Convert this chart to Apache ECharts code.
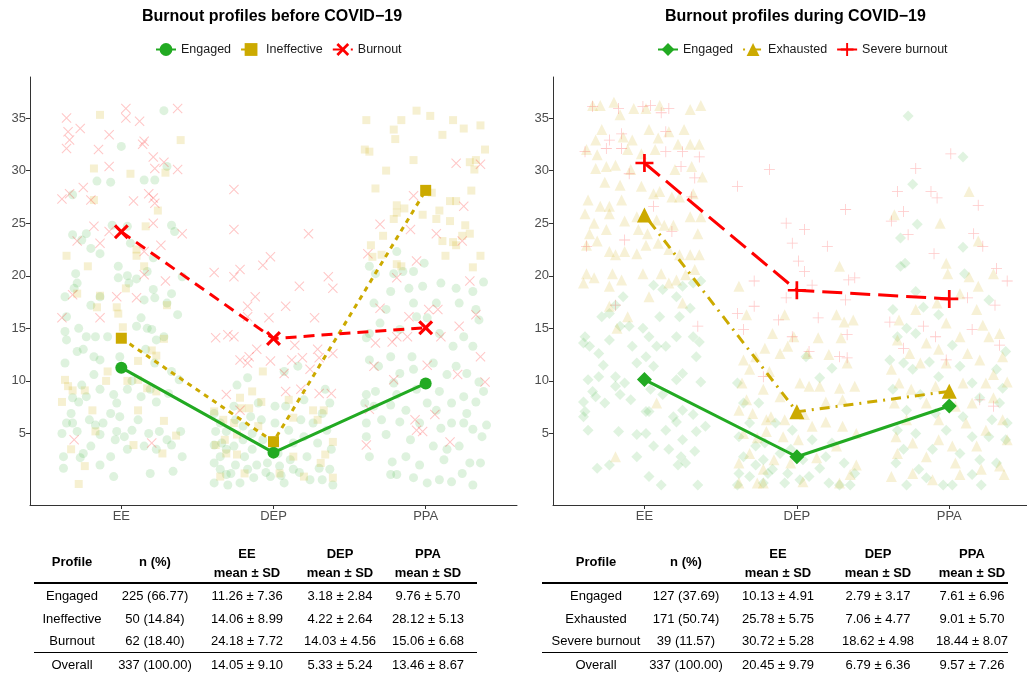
<!DOCTYPE html>
<html>
<head>
<meta charset="utf-8">
<script src="https://cdn.jsdelivr.net/npm/echarts@6/dist/echarts.min.js"></script>
<style>
  html, body { margin: 0; padding: 0; background: #fff; }
  #main { width: 1027px; height: 673px; }
</style>
</head>
<body>
<div id="main"></div>
<script>
// axes
var categories = ['EE', 'DEP', 'PPA'];
var xTicks = [1, 2, 3];
var yTicks = [5, 10, 15, 20, 25, 30, 35];

// profiles and profile means (as plotted)
var beforeProfiles = ['Engaged', 'Ineffective', 'Burnout'];
var duringProfiles = ['Engaged', 'Exhausted', 'Severe burnout'];
var beforeMeans = [[11.26, 3.18, 9.76], [14.06, 4.22, 28.12], [24.18, 14.03, 15.06]];
var duringMeans = [[10.13, 2.79, 7.61], [25.78, 7.06, 9.01], [30.72, 18.62, 17.8]];

// individual scores, [jitter offset, score]
var beforeEngagedEE = [[0.28,35.7],[0.0,32.3],[-0.16,29.0],[-0.07,28.9],[0.15,29.1],[0.22,29.1],[0.30,30.4],[-0.32,27.7],[-0.06,24.8],[0.04,24.7],[0.33,24.8],[0.35,24.2],[-0.32,23.9],[-0.23,24.0],[-0.26,23.4],[-0.20,22.6],[-0.14,22.1],[0.06,23.1],[-0.02,20.9],[0.17,20.4],[0.21,21.7],[-0.30,20.2],[-0.29,19.3],[-0.31,18.8],[-0.37,18.0],[-0.20,17.2],[-0.14,18.0],[-0.02,19.8],[0.04,20.0],[0.05,19.3],[0.10,19.7],[0.15,17.7],[0.21,18.7],[0.22,17.9],[0.33,18.3],[0.30,17.4],[0.37,16.3],[0.40,19.9],[-0.36,16.1],[-0.37,14.7],[-0.28,15.0],[-0.23,14.2],[-0.17,14.2],[-0.09,14.2],[-0.36,13.9],[-0.29,12.8],[-0.25,13.0],[-0.18,12.3],[-0.14,12.0],[-0.01,12.3],[0.10,15.2],[0.13,16.0],[0.17,15.0],[0.20,14.9],[0.23,13.9],[0.28,14.2],[0.16,13.0],[0.22,11.7],[-0.37,11.7],[-0.18,10.6],[-0.14,9.2],[-0.05,8.7],[0.04,9.2],[0.07,10.0],[0.13,8.5],[0.19,9.2],[0.23,8.0],[0.31,8.8],[0.38,10.1],[0.33,10.9],[-0.32,8.4],[-0.28,8.0],[-0.23,8.5],[-0.26,9.6],[-0.33,6.9],[-0.32,6.0],[-0.36,6.0],[-0.39,5.0],[-0.29,5.2],[-0.21,6.3],[-0.17,5.8],[-0.12,6.0],[-0.07,6.9],[-0.03,7.9],[-0.01,6.6],[-0.03,5.2],[0.02,4.7],[0.07,5.3],[0.04,3.5],[-0.04,4.4],[-0.14,4.9],[-0.20,3.8],[-0.25,3.1],[-0.38,2.8],[-0.38,1.7],[-0.27,2.7],[-0.14,2.0],[-0.07,2.8],[-0.05,0.9],[0.18,5.0],[0.25,5.2],[0.30,4.4],[0.39,5.2],[0.23,3.5],[0.19,1.2],[0.33,3.9],[0.40,2.8],[0.34,1.4],[0.15,3.8],[0.11,6.3]];
var beforeEngagedDEP = [[-0.39,6.9],[-0.38,5.2],[-0.39,3.9],[-0.39,2.2],[-0.39,0.3],[-0.35,6.0],[-0.34,4.1],[-0.35,2.8],[-0.35,1.6],[-0.31,5.2],[-0.31,3.5],[-0.31,1.1],[-0.30,0.1],[-0.26,7.6],[-0.25,6.3],[-0.26,3.8],[-0.25,2.0],[-0.22,0.3],[-0.20,5.7],[-0.20,4.4],[-0.19,2.8],[-0.17,1.6],[-0.15,6.6],[-0.14,5.0],[-0.14,3.5],[-0.13,0.8],[-0.11,2.0],[-0.10,7.9],[-0.24,9.6],[-0.17,10.3],[-0.08,6.3],[-0.07,4.4],[-0.04,2.2],[-0.02,0.9],[0.01,6.0],[0.03,3.1],[0.04,1.9],[0.07,0.3],[0.08,7.6],[0.10,5.3],[0.13,4.1],[0.13,1.6],[0.16,11.4],[0.18,6.3],[0.20,4.7],[0.22,2.8],[0.24,0.6],[0.26,6.0],[0.29,4.1],[0.30,1.7],[0.32,6.9],[0.34,9.2],[0.35,5.3],[0.37,7.9],[0.38,3.5],[0.39,0.1],[0.07,10.9],[0.20,8.2],[0.01,7.6],[0.11,2.5],[0.32,0.6],[0.37,1.6],[-0.05,1.3],[0.05,1.0],[-0.28,1.2],[0.17,1.3]];
var beforeEngagedPPA = [[-0.19,22.3],[-0.01,21.2],[-0.37,20.9],[-0.33,20.2],[-0.21,20.2],[-0.15,20.4],[-0.08,20.4],[-0.02,19.0],[0.10,19.3],[0.20,18.8],[0.31,18.5],[0.38,19.4],[-0.23,18.5],[-0.11,18.8],[-0.34,17.4],[-0.26,16.8],[-0.08,17.4],[-0.06,16.1],[0.01,16.0],[0.07,17.4],[0.22,17.4],[0.33,16.8],[0.35,15.8],[0.25,14.2],[0.18,13.3],[0.31,13.3],[0.09,14.5],[-0.17,14.9],[-0.37,14.5],[-0.30,15.5],[-0.39,14.1],[-0.23,12.3],[-0.09,12.3],[-0.37,12.0],[-0.08,11.1],[-0.17,10.7],[-0.31,11.4],[0.05,11.7],[0.14,10.6],[0.20,11.4],[0.27,10.7],[0.35,9.9],[-0.39,8.7],[-0.33,9.0],[-0.21,9.8],[-0.19,8.7],[-0.23,7.7],[-0.34,7.6],[-0.40,7.9],[-0.06,9.2],[0.01,7.9],[0.09,9.0],[0.17,7.9],[0.25,8.5],[0.33,8.0],[0.38,9.0],[-0.13,7.2],[0.07,7.2],[0.27,6.9],[-0.39,6.0],[-0.29,6.3],[-0.17,6.1],[-0.04,6.0],[0.10,5.5],[0.17,6.0],[0.25,6.0],[0.31,5.4],[0.37,4.7],[0.40,5.8],[-0.39,4.7],[-0.26,4.9],[-0.10,4.4],[0.05,3.8],[0.14,3.5],[0.22,3.8],[-0.37,2.8],[-0.22,2.3],[-0.13,2.8],[-0.04,2.0],[0.12,2.5],[0.29,2.2],[0.36,2.2],[-0.23,1.1],[-0.08,0.8],[0.01,0.3],[0.09,0.6],[0.17,0.4],[0.24,1.2],[0.31,0.1],[-0.19,1.1]];
var beforeIneffectiveEE = [[-0.14,35.3],[0.39,32.9],[-0.18,30.2],[0.06,29.7],[0.29,29.8],[-0.18,27.2],[0.24,26.2],[0.16,24.7],[-0.36,21.9],[-0.22,20.9],[0.10,22.5],[0.10,21.9],[0.15,20.9],[0.03,18.8],[-0.29,18.3],[-0.14,18.1],[-0.16,17.0],[-0.03,17.0],[-0.02,16.4],[0.01,15.1],[0.30,17.2],[0.28,14.0],[0.20,12.9],[0.23,12.4],[0.11,11.9],[-0.09,10.9],[-0.10,10.0],[0.04,10.0],[0.11,10.1],[0.17,9.3],[-0.37,10.1],[-0.35,9.5],[-0.32,9.1],[-0.24,9.1],[-0.39,8.0],[-0.19,7.2],[0.11,7.2],[-0.17,5.2],[0.28,6.2],[0.36,4.8],[0.08,3.9],[-0.33,3.5],[0.27,3.1],[-0.24,1.9],[-0.28,0.2],[0.23,9.0]];
var beforeIneffectiveDEP = [[-0.07,10.9],[-0.08,8.0],[0.10,8.2],[0.26,7.2],[0.33,7.2],[0.13,6.5],[0.29,6.3],[0.39,4.2],[0.13,2.8],[0.34,3.0],[0.31,2.2],[0.04,1.2],[0.20,0.9],[0.39,0.8],[-0.14,9.0],[-0.22,8.4],[-0.21,7.4],[-0.16,7.4],[-0.39,7.1],[-0.33,6.3],[-0.26,6.0],[-0.24,4.9],[-0.32,4.4],[-0.38,3.9],[-0.31,3.1],[-0.24,3.0],[-0.35,0.9],[-0.19,1.2],[-0.10,5.7]];
var beforeIneffectivePPA = [[-0.39,34.8],[-0.16,34.8],[-0.06,35.7],[0.03,35.2],[0.18,34.8],[0.25,34.0],[0.36,34.3],[-0.21,33.9],[-0.20,33.0],[0.11,33.4],[-0.40,32.0],[-0.37,31.8],[0.39,32.0],[-0.08,31.0],[0.29,30.8],[0.33,31.0],[0.32,30.1],[-0.26,30.0],[-0.33,28.3],[0.30,28.1],[0.04,27.9],[-0.19,26.7],[-0.14,26.4],[-0.19,26.0],[-0.21,25.4],[-0.02,25.8],[0.09,26.2],[0.07,25.4],[0.16,27.1],[0.20,27.1],[0.16,25.2],[0.26,24.8],[0.29,24.0],[0.24,23.8],[-0.28,23.8],[-0.36,22.9],[-0.29,22.0],[-0.35,21.8],[0.11,23.3],[0.18,23.2],[0.20,22.9],[0.13,21.9],[0.36,21.9],[-0.19,21.1],[-0.16,20.9],[0.31,20.8]];
var beforeBurnoutEE = [[-0.36,35.0],[-0.35,33.7],[-0.34,32.9],[-0.36,32.1],[-0.27,34.0],[-0.39,27.3],[-0.34,27.8],[-0.25,28.4],[-0.20,27.2],[-0.15,32.0],[-0.08,33.4],[-0.08,30.4],[0.03,35.9],[0.03,35.0],[0.12,34.7],[0.14,32.5],[0.15,32.8],[0.21,31.3],[0.22,30.2],[0.18,27.8],[0.21,27.4],[0.22,26.9],[0.28,30.8],[0.37,35.9],[0.37,30.1],[0.40,24.0],[0.26,22.9],[0.29,19.5],[0.21,25.0],[0.15,22.3],[0.10,17.9],[-0.03,18.0],[-0.14,16.0],[-0.18,24.7],[-0.14,23.1],[-0.29,23.3],[-0.39,16.0],[-0.32,18.2],[-0.08,24.2],[0.08,27.1],[0.15,20.1],[0.20,4.1],[-0.31,4.4]];
var beforeBurnoutDEP = [[0.23,24.0],[-0.02,21.8],[-0.07,21.0],[0.17,19.0],[0.36,19.9],[0.39,18.8],[0.08,17.1],[0.27,16.0],[-0.03,16.0],[0.14,13.4],[0.29,13.0],[-0.02,11.9],[0.12,12.0],[0.19,12.2],[0.30,12.2],[0.39,12.6],[0.07,10.7],[0.24,11.1],[0.08,9.0],[0.18,9.2],[0.30,8.8],[0.38,8.8],[-0.26,28.2],[-0.26,24.4],[-0.39,20.3],[-0.26,19.9],[-0.22,20.6],[-0.38,14.1],[-0.30,14.4],[-0.26,14.2],[-0.17,17.1],[-0.12,18.0],[-0.22,12.0],[-0.17,11.7],[-0.16,12.3],[-0.11,13.0],[-0.31,8.7],[-0.22,7.2],[-0.17,16.1]];
var beforeBurnoutPPA = [[0.20,30.7],[0.36,30.6],[-0.08,27.6],[-0.30,24.9],[-0.10,24.4],[0.07,24.0],[0.24,23.3],[0.25,26.6],[-0.38,22.1],[-0.06,21.4],[-0.19,19.8],[0.29,19.5],[-0.30,16.9],[-0.11,16.1],[0.02,16.8],[0.08,16.8],[0.22,15.2],[0.33,16.3],[-0.33,13.6],[-0.22,13.7],[-0.19,14.2],[-0.12,14.2],[0.10,14.2],[0.36,12.3],[-0.34,11.4],[0.01,11.5],[0.21,10.6],[0.39,9.9],[-0.21,10.1],[-0.37,7.3],[-0.07,6.3],[0.06,6.8],[-0.06,5.3],[-0.02,5.2],[-0.39,3.9],[0.16,4.2]];

var duringEngagedEE = [[-0.14,18.0],[-0.19,17.2],[-0.28,16.1],[-0.23,16.4],[-0.16,15.2],[-0.10,15.2],[-0.01,15.0],[0.06,19.1],[0.12,18.7],[0.21,18.0],[0.25,19.0],[0.32,19.3],[0.37,19.5],[0.30,16.9],[0.23,16.1],[0.10,16.1],[-0.39,14.2],[-0.40,13.6],[-0.36,13.3],[-0.30,12.6],[-0.23,13.9],[-0.08,13.3],[0.03,14.2],[0.08,13.3],[0.14,13.3],[0.21,14.2],[0.32,14.2],[0.36,13.7],[0.01,12.3],[-0.05,11.7],[0.06,11.4],[0.34,12.3],[-0.27,11.5],[-0.37,10.1],[-0.30,10.4],[-0.19,10.4],[-0.13,9.8],[-0.19,9.5],[0.21,10.1],[0.25,10.7],[0.37,9.9],[-0.34,9.0],[-0.32,8.5],[-0.16,8.7],[-0.09,8.2],[0.04,9.2],[0.12,8.7],[-0.40,8.0],[-0.39,7.1],[-0.40,6.6],[-0.26,7.9],[0.01,7.1],[0.03,7.1],[0.19,6.6],[0.25,7.2],[0.32,6.8],[0.21,6.1],[0.14,5.3],[-0.37,5.3],[-0.17,5.2],[-0.05,4.9],[0.01,5.0],[0.34,5.2],[0.40,5.7],[0.06,3.8],[0.16,3.5],[0.25,4.4],[0.33,3.3],[-0.31,1.7],[-0.23,2.0],[-0.05,2.8],[0.22,2.0],[0.27,2.2],[0.03,0.9],[0.11,0.1],[0.35,0.1],[0.24,2.8]];
var duringEngagedDEP = [[-0.39,9.8],[-0.35,7.9],[-0.31,6.0],[-0.38,4.7],[-0.27,3.8],[-0.35,2.8],[-0.22,2.5],[-0.38,1.2],[-0.31,0.9],[-0.39,0.1],[-0.22,0.3],[-0.19,1.2],[-0.27,2.0],[0.06,12.3],[0.23,11.2],[0.15,10.3],[-0.25,7.9],[-0.14,6.0],[-0.03,5.3],[0.10,4.4],[0.23,4.1],[0.31,2.2],[0.38,1.2],[-0.21,4.1],[-0.11,3.1],[-0.16,1.6],[-0.06,1.2],[0.02,0.6],[0.08,0.9],[0.15,1.7],[0.21,0.3],[0.28,0.1],[0.35,0.1],[0.04,2.5],[-0.08,0.3],[0.19,2.8],[-0.04,3.5]];
var duringEngagedPPA = [[-0.27,35.2],[0.09,31.3],[-0.24,28.7],[-0.21,24.9],[-0.32,23.6],[0.09,22.7],[-0.29,21.2],[-0.32,20.9],[0.10,20.2],[-0.22,18.5],[-0.17,17.0],[-0.07,16.3],[-0.37,16.8],[0.26,17.7],[-0.28,15.0],[-0.22,14.5],[-0.34,14.2],[0.02,13.4],[0.37,12.8],[-0.39,12.0],[-0.30,11.7],[-0.13,11.8],[0.07,11.4],[0.31,11.1],[-0.24,11.1],[-0.07,10.4],[0.15,9.8],[0.35,9.3],[-0.37,9.2],[-0.19,8.7],[0.20,8.4],[0.33,7.9],[-0.28,7.2],[-0.09,6.9],[0.09,6.6],[0.28,6.3],[0.38,6.0],[-0.34,5.3],[-0.22,5.0],[-0.02,5.3],[0.15,4.7],[0.26,4.7],[0.37,4.4],[-0.30,3.5],[-0.11,3.5],[0.07,3.1],[0.20,2.5],[-0.35,2.2],[-0.20,1.6],[-0.04,0.1],[0.02,0.1],[0.15,1.1],[0.21,0.1],[-0.28,0.1],[-0.15,0.8],[0.31,2.2]];
var duringExhaustedEE = [[-0.34,36.2],[-0.29,36.2],[-0.20,36.5],[-0.07,35.9],[0.01,35.9],[0.10,36.2],[0.30,35.8],[0.37,36.2],[-0.16,35.3],[-0.28,33.9],[-0.32,32.9],[-0.14,33.2],[-0.08,32.9],[0.03,33.9],[0.09,33.1],[0.16,33.7],[0.26,33.9],[0.22,32.5],[0.30,32.5],[0.36,32.5],[-0.38,32.0],[-0.31,31.5],[-0.11,32.0],[-0.02,31.6],[0.07,32.0],[-0.25,30.4],[-0.19,30.5],[-0.32,30.2],[-0.09,30.1],[0.20,30.1],[0.31,30.4],[0.38,29.4],[-0.26,28.9],[-0.16,28.6],[-0.02,28.5],[0.06,27.8],[0.10,28.0],[0.18,27.5],[0.23,27.5],[0.32,27.8],[-0.37,27.2],[-0.29,26.6],[-0.23,26.6],[-0.15,27.2],[-0.39,25.9],[-0.23,25.9],[-0.13,25.2],[-0.05,25.6],[0.08,25.3],[0.13,24.8],[0.19,24.8],[0.30,25.6],[0.37,25.6],[-0.33,25.0],[-0.36,24.0],[-0.25,24.4],[-0.04,24.4],[0.02,24.0],[0.35,24.0],[-0.38,22.9],[-0.31,23.3],[-0.23,22.3],[-0.19,22.0],[-0.13,22.3],[-0.05,22.1],[0.01,22.9],[0.09,23.1],[0.16,22.5],[0.23,22.0],[0.30,22.0],[0.36,22.0],[-0.38,20.2],[-0.33,19.8],[-0.21,20.2],[-0.15,19.6],[-0.01,20.2],[0.11,20.2],[0.16,19.3],[0.21,19.6],[0.27,20.1],[0.33,20.6],[-0.40,19.3],[-0.23,19.0],[0.03,18.0],[0.25,17.4],[-0.23,17.1],[-0.11,16.1],[-0.18,15.0],[-0.19,2.8],[0.08,7.9]];
var duringExhaustedDEP = [[0.28,20.9],[-0.08,16.3],[-0.16,14.5],[-0.02,14.2],[0.14,14.1],[0.26,16.3],[0.31,15.6],[0.37,15.8],[0.29,14.1],[-0.21,13.1],[-0.11,12.6],[-0.06,13.3],[0.07,12.6],[0.21,12.5],[0.33,11.7],[-0.18,10.9],[0.02,9.8],[0.08,9.5],[0.15,9.5],[0.28,9.3],[0.38,9.5],[-0.11,8.5],[0.19,8.0],[0.30,8.2],[-0.17,6.6],[-0.08,6.3],[0.05,6.8],[0.10,5.7],[0.19,6.1],[0.30,5.7],[0.39,5.0],[-0.20,5.2],[-0.09,4.7],[0.01,4.4],[0.26,3.8],[-0.15,2.5],[-0.04,2.2],[0.13,2.7],[0.39,2.0],[-0.22,0.3],[0.04,0.4],[0.28,0.3],[0.35,1.1],[-0.38,19.0],[-0.33,16.3],[-0.35,12.0],[-0.27,12.3],[-0.31,11.1],[-0.36,9.8],[-0.22,9.2],[-0.33,8.2],[-0.38,7.2],[-0.29,6.9],[-0.20,6.3],[-0.35,5.0],[-0.26,4.6],[-0.31,3.1],[-0.38,2.2],[-0.22,1.6],[-0.26,0.3],[-0.38,0.3]];
var duringExhaustedPPA = [[0.13,28.0],[-0.06,25.0],[-0.36,25.8],[-0.02,21.2],[0.19,23.3],[-0.01,20.2],[0.13,19.9],[0.29,20.2],[0.19,19.0],[0.07,18.3],[-0.08,17.4],[0.18,16.8],[-0.33,15.8],[-0.22,16.8],[-0.02,15.5],[0.22,15.3],[0.33,14.5],[-0.34,13.9],[-0.15,13.6],[0.07,14.2],[0.26,14.2],[-0.26,12.6],[-0.07,13.0],[0.12,12.6],[0.20,12.0],[0.35,12.3],[-0.38,11.1],[-0.19,11.7],[-0.02,11.7],[0.29,10.6],[-0.33,9.8],[-0.25,9.2],[-0.09,9.5],[0.09,9.8],[0.24,9.8],[0.38,9.9],[-0.36,7.9],[-0.15,7.9],[0.04,7.6],[0.15,7.9],[0.29,8.4],[-0.28,6.3],[-0.07,6.3],[0.11,6.0],[0.24,5.3],[0.35,6.3],[-0.35,4.7],[-0.24,4.1],[-0.07,4.4],[0.02,3.8],[0.18,3.8],[0.38,4.4],[-0.34,3.1],[-0.15,2.8],[0.04,2.2],[0.21,1.6],[0.33,1.9],[-0.38,0.9],[-0.24,1.2],[0.07,1.1],[0.36,1.1],[-0.11,0.6]];
var duringSevereEE = [[-0.34,36.1],[-0.17,35.9],[-0.01,36.1],[0.04,36.2],[0.11,35.5],[0.16,35.9],[0.14,33.7],[-0.23,32.9],[-0.15,33.5],[-0.25,32.1],[-0.15,32.1],[0.25,31.8],[-0.39,31.8],[0.36,31.3],[0.14,31.8],[0.24,30.4],[-0.10,29.7],[0.33,29.3],[0.31,27.5],[0.06,26.6],[0.18,24.2],[-0.13,23.4],[-0.38,22.8],[-0.19,17.2],[0.35,15.2]];
var duringSevereDEP = [[-0.18,30.1],[-0.07,25.0],[0.05,24.4],[-0.03,23.1],[0.20,22.8],[0.32,26.3],[0.01,21.4],[0.05,20.4],[0.10,19.1],[0.34,19.6],[0.38,19.8],[0.32,17.7],[-0.07,17.9],[0.14,16.0],[-0.12,15.8],[-0.03,14.2],[0.33,14.4],[0.08,12.8],[0.28,12.3],[0.33,12.2],[-0.22,10.4],[-0.39,28.5],[-0.28,19.5],[-0.28,17.1],[-0.39,16.4],[-0.35,14.9]];
var duringSeverePPA = [[0.01,31.6],[-0.22,30.2],[-0.12,28.0],[-0.08,27.4],[-0.34,28.0],[-0.30,26.1],[-0.38,25.2],[0.19,26.7],[-0.27,23.9],[-0.10,22.1],[0.16,24.0],[0.22,22.8],[0.31,20.7],[0.38,19.5],[0.12,17.9],[0.30,17.2],[-0.39,15.6],[-0.17,15.2],[0.15,14.9],[0.33,13.4],[-0.30,13.1],[-0.09,14.2],[-0.02,12.0],[0.20,8.2],[0.29,7.6]];

// summary tables
var tableHeader = ['Profile', 'n (%)', 'EE', 'DEP', 'PPA'];
var beforeRows = [
    ['Engaged', '225 (66.77)', '11.26 ± 7.36', '3.18 ± 2.84', '9.76 ± 5.70'],
    ['Ineffective', '50 (14.84)', '14.06 ± 8.99', '4.22 ± 2.64', '28.12 ± 5.13'],
    ['Burnout', '62 (18.40)', '24.18 ± 7.72', '14.03 ± 4.56', '15.06 ± 6.68']
];
var beforeOverall = ['Overall', '337 (100.00)', '14.05 ± 9.10', '5.33 ± 5.24', '13.46 ± 8.67'];
var duringRows = [
    ['Engaged', '127 (37.69)', '10.13 ± 4.91', '2.79 ± 3.17', '7.61 ± 6.96'],
    ['Exhausted', '171 (50.74)', '25.78 ± 5.75', '7.06 ± 4.77', '9.01 ± 5.70'],
    ['Severe burnout', '39 (11.57)', '30.72 ± 5.28', '18.62 ± 4.98', '18.44 ± 8.07']
];
var duringOverall = ['Overall', '337 (100.00)', '20.45 ± 9.79', '6.79 ± 6.36', '9.57 ± 7.26'];

var beforeScatter = [
    [beforeEngagedEE, beforeEngagedDEP, beforeEngagedPPA],
    [beforeIneffectiveEE, beforeIneffectiveDEP, beforeIneffectivePPA],
    [beforeBurnoutEE, beforeBurnoutDEP, beforeBurnoutPPA]
];
var duringScatter = [
    [duringEngagedEE, duringEngagedDEP, duringEngagedPPA],
    [duringExhaustedEE, duringExhaustedDEP, duringExhaustedPPA],
    [duringSevereEE, duringSevereDEP, duringSeverePPA]
];

var colors = ['#22AA22', '#CCAA00', '#FF0000'];
var crossBold = 'path://M0,3 L3,0 L10,7 L17,0 L20,3 L13,10 L20,17 L17,20 L10,13 L3,20 L0,17 L7,10 Z';
var crossThin = 'path://M0,1.5 L1.5,0 L10,8.5 L18.5,0 L20,1.5 L11.5,10 L20,18.5 L18.5,20 L10,11.5 L1.5,20 L0,18.5 L8.5,10 Z';
var plusBold = 'path://M8.5,0 H11.5 V8.5 H20 V11.5 H11.5 V20 H8.5 V11.5 H0 V8.5 H8.5 Z';
var plusThin = 'path://M9.3,0 H10.7 V9.3 H20 V10.7 H10.7 V20 H9.3 V10.7 H0 V9.3 H9.3 Z';

var panels = [{
    key: 'before',
    title: 'Burnout profiles before COVID\u221219',
    titleLeft: 142,
    legendLeft: 155,
    gridLeft: 30,
    gridWidth: 487,
    xMax: 3.6,
    profiles: beforeProfiles,
    means: beforeMeans,
    scatter: beforeScatter,
    rows: beforeRows,
    overall: beforeOverall,
    meanSymbol: ['circle', 'rect', crossBold],
    meanSize: [12, 11, 15],
    dotSymbol: ['circle', 'rect', crossThin],
    dotSize: [9, 8, 10],
    dotOpacity: [0.15, 0.18, 0.22],
    lineType: ['solid', [5, 5], [11, 7]],
    tableX: [34, 477],
    colX: [72, 155, 247, 340, 428]
}, {
    key: 'during',
    title: 'Burnout profiles during COVID\u221219',
    titleLeft: 665,
    legendLeft: 657,
    gridLeft: 553,
    gridWidth: 474,
    xMax: 3.51,   // panel is cut off at the right edge of the picture
    profiles: duringProfiles,
    means: duringMeans,
    scatter: duringScatter,
    rows: duringRows,
    overall: duringOverall,
    meanSymbol: ['diamond', 'triangle', plusBold],
    meanSize: [15, 15, 18],
    dotSymbol: ['diamond', 'triangle', plusThin],
    dotSize: [11, 11, 11],
    dotOpacity: [0.14, 0.16, 0.22],
    lineType: ['solid', [2, 6, 10, 6], [20, 8]],
    tableX: [542, 1008],
    colX: [596, 686, 778, 878, 972]
}];

var option = {
    animation: false,
    backgroundColor: '#fff',
    textStyle: { fontFamily: 'Liberation Sans, Arial, sans-serif' },
    title: [],
    legend: [],
    grid: [],
    xAxis: [],
    yAxis: [],
    series: [],
    graphic: []
};

panels.forEach(function (p, gi) {
    option.title.push({
        text: p.title,
        left: p.titleLeft,
        top: 9,
        padding: 0,
        textStyle: { fontSize: 16, fontWeight: 'bold', color: '#000' }
    });
    option.grid.push({ left: p.gridLeft, top: 77, width: p.gridWidth, height: 428 });
    option.xAxis.push({
        gridIndex: gi,
        type: 'value',
        min: 0.4,
        max: p.xMax,
        splitLine: { show: false },
        axisLine: { onZero: false, lineStyle: { color: '#333', width: 1 } },
        axisTick: { customValues: xTicks, length: 4, lineStyle: { color: '#333' } },
        axisLabel: {
            customValues: xTicks,
            margin: 5,
            fontSize: 13,
            color: '#4d4d4d',
            formatter: function (v) { return categories[Math.round(v) - 1]; }
        }
    });
    option.yAxis.push({
        gridIndex: gi,
        type: 'value',
        min: -1.8,
        max: 38.9,
        splitLine: { show: false },
        axisLine: { onZero: false, lineStyle: { color: '#333', width: 1 } },
        axisTick: { customValues: yTicks, length: 4, lineStyle: { color: '#333' } },
        axisLabel: { customValues: yTicks, margin: 4, fontSize: 13, color: '#4d4d4d' }
    });

    var legendNames = [];
    p.profiles.forEach(function (name, k) {
        // faint individual scores
        p.scatter[k].forEach(function (pts, c) {
            option.series.push({
                type: 'scatter',
                name: p.key + '-' + name + '-' + categories[c],
                xAxisIndex: gi,
                yAxisIndex: gi,
                symbol: p.dotSymbol[k],
                symbolSize: p.dotSize[k],
                itemStyle: { color: colors[k], opacity: p.dotOpacity[k] },
                emphasis: { disabled: true },
                silent: true,
                z: 1,
                data: pts.map(function (d) { return [xTicks[c] + d[0], d[1]]; })
            });
        });
    });
    p.profiles.forEach(function (name, k) {
        var seriesName = p.key + ': ' + name;
        legendNames.push(seriesName);
        option.series.push({
            type: 'line',
            name: seriesName,
            xAxisIndex: gi,
            yAxisIndex: gi,
            symbol: p.meanSymbol[k],
            symbolSize: p.meanSize[k],
            showAllSymbol: true,
            itemStyle: { color: colors[k], opacity: 1 },
            lineStyle: { color: colors[k], width: 3, type: p.lineType[k] },
            emphasis: { disabled: true },
            z: 3,
            data: categories.map(function (c, i) { return [xTicks[i], p.means[k][i]]; })
        });
    });
    option.legend.push({
        data: legendNames,
        left: p.legendLeft,
        top: 43,
        padding: 0,
        itemWidth: 20,
        itemHeight: 16,
        itemGap: 9,
        selectedMode: false,
        textStyle: { fontSize: 12.5, color: '#1a1a1a' },
        formatter: function (n) { return n.replace(/^(before|during): /, ''); }
    });

    // summary table under the panel
    var headerStyle = { fontSize: 13, fontWeight: 'bold', fill: '#000', align: 'center', verticalAlign: 'middle' };
    var cellStyle = { fontSize: 13, fill: '#000', align: 'center', verticalAlign: 'middle' };
    function text(str, x, y, st) {
        option.graphic.push({ type: 'text', x: x, y: y, silent: true, style: Object.assign({ text: str }, st) });
    }
    text(tableHeader[0], p.colX[0], 562, headerStyle);
    text(tableHeader[1], p.colX[1], 562, headerStyle);
    for (var c = 2; c < 5; c++) {
        text(tableHeader[c], p.colX[c], 554, headerStyle);
        text('mean ± SD', p.colX[c], 573, headerStyle);
    }
    var rowY = [596, 619, 641.5];
    p.rows.forEach(function (row, r) {
        row.forEach(function (cell, c) { text(cell, p.colX[c], rowY[r], cellStyle); });
    });
    p.overall.forEach(function (cell, c) { text(cell, p.colX[c], 665, cellStyle); });
    option.graphic.push({
        type: 'line', silent: true,
        shape: { x1: p.tableX[0], y1: 583, x2: p.tableX[1], y2: 583 },
        style: { stroke: '#000', lineWidth: 2 }
    });
    option.graphic.push({
        type: 'line', silent: true,
        shape: { x1: p.tableX[0], y1: 652.5, x2: p.tableX[1], y2: 652.5 },
        style: { stroke: '#000', lineWidth: 1.2 }
    });
});

var chart = echarts.init(document.getElementById('main'), null, { renderer: 'canvas' });
chart.setOption(option);
</script>
</body>
</html>
